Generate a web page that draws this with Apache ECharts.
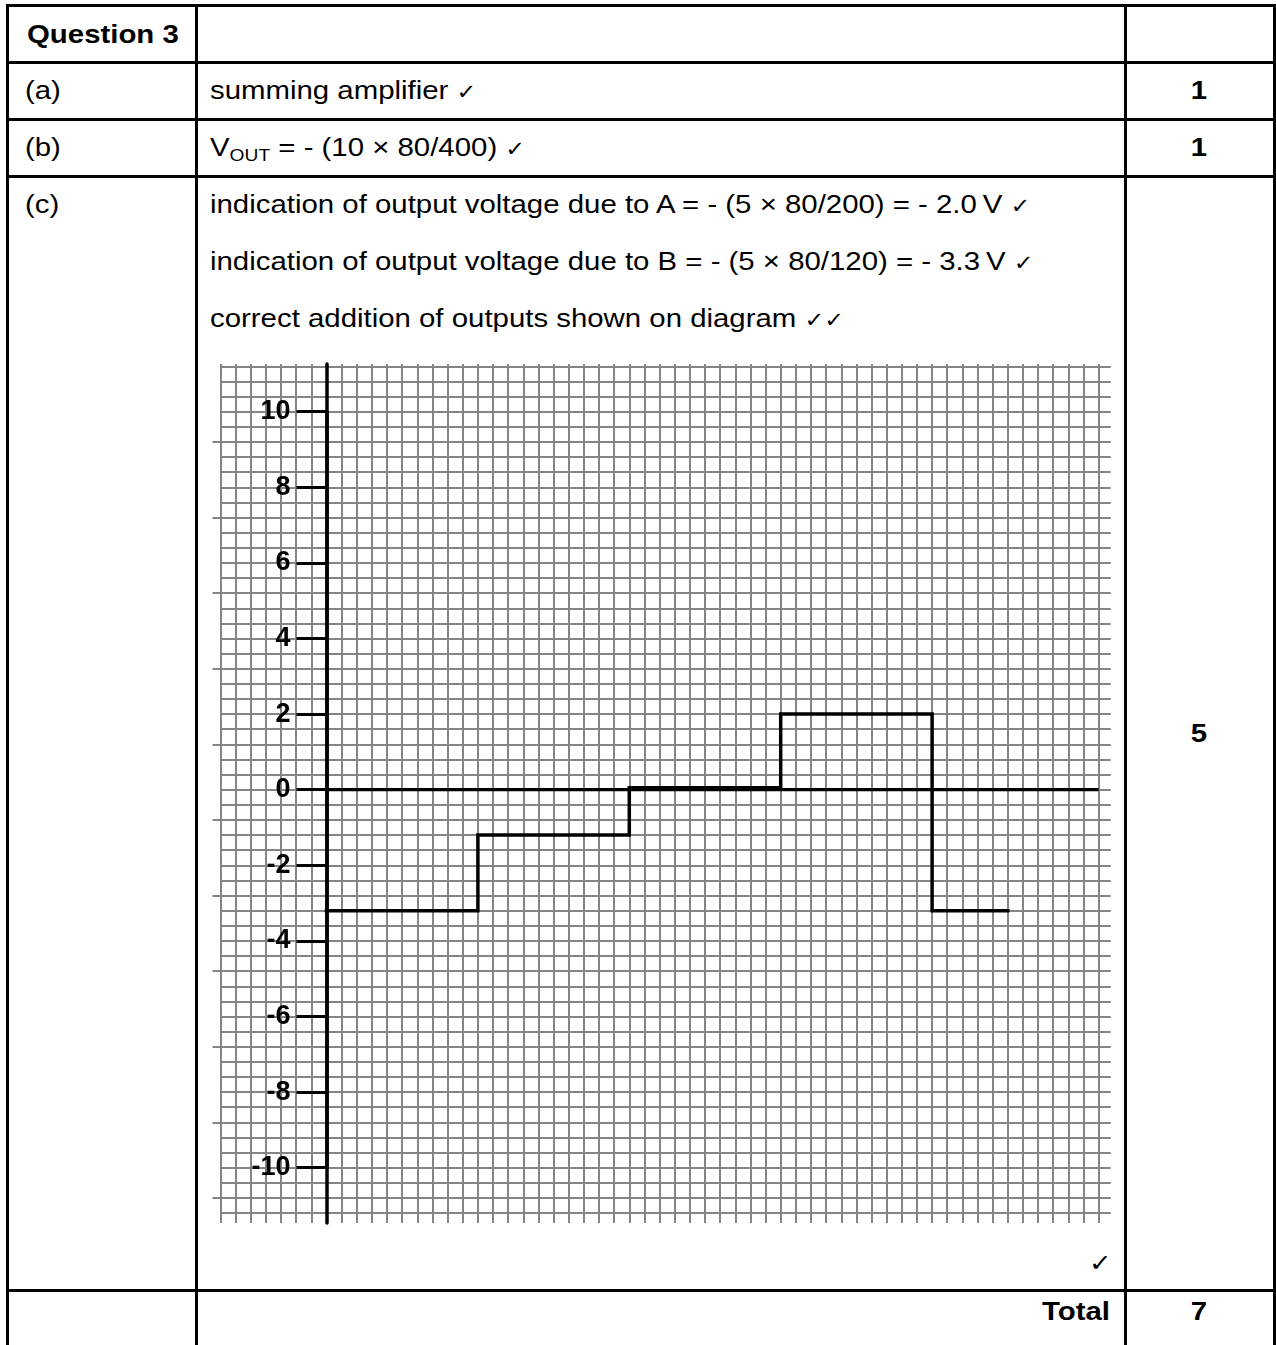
<!DOCTYPE html>
<html>
<head>
<meta charset="utf-8">
<script src="https://cdn.jsdelivr.net/npm/echarts@6/dist/echarts.min.js"></script>
<style>
html,body{margin:0;padding:0;background:#fff;}
body{width:1276px;height:1345px;position:relative;overflow:hidden;font-family:"Liberation Sans",Arial,sans-serif;color:#000;}
.hl{position:absolute;height:3px;background:#000;left:6px;width:1270px;}
.vl{position:absolute;width:3px;background:#000;top:4px;height:1341px;}
.t{position:absolute;white-space:nowrap;font-size:26px;line-height:40px;height:40px;transform:scaleX(1.13);transform-origin:0 50%;}
.b{font-weight:bold;}
.c{text-align:center;width:150px;transform-origin:50% 50%;}
.r{text-align:right;transform-origin:100% 50%;}
.ck{font-family:"DejaVu Sans",sans-serif;font-size:21px;}
sub{font-size:17px;vertical-align:-5px;line-height:0;}
#chart{position:absolute;left:0;top:0;width:1276px;height:1345px;z-index:2;}
</style>
</head>
<body>
<!-- table rules -->
<div class="hl" style="top:4px"></div>
<div class="hl" style="top:61px"></div>
<div class="hl" style="top:118px"></div>
<div class="hl" style="top:175px"></div>
<div class="hl" style="top:1289px"></div>
<div class="vl" style="left:6px"></div>
<div class="vl" style="left:195px"></div>
<div class="vl" style="left:1124px"></div>
<div class="vl" style="left:1273px"></div>

<div class="t b" style="left:27px;top:14px">Question 3</div>
<div class="t" style="left:25px;top:70px">(a)</div>
<div class="t" style="left:25px;top:127px">(b)</div>
<div class="t" style="left:25px;top:184px">(c)</div>

<div class="t" style="left:210px;top:70px">summing amplifier <span class="ck">✓</span></div>
<div class="t" style="left:210px;top:127px">V<sub>OUT</sub> = - (10 × 80/400) <span class="ck">✓</span></div>
<div class="t" style="left:210px;top:184px">indication of output voltage due to A = - (5 × 80/200) = - 2.0&#8201;V <span class="ck">✓</span></div>
<div class="t" style="left:210px;top:241px">indication of output voltage due to B = - (5 × 80/120) = - 3.3&#8201;V <span class="ck">✓</span></div>
<div class="t" style="left:210px;top:298px">correct addition of outputs shown on diagram <span class="ck">✓✓</span></div>
<div class="t" style="left:1089px;top:1242px"><span class="ck" style="font-size:24px">✓</span></div>

<div class="t b c" style="left:1124px;top:70px">1</div>
<div class="t b c" style="left:1124px;top:127px">1</div>
<div class="t b c" style="left:1124px;top:713px">5</div>
<div class="t b r" style="left:1010px;top:1291px;width:100px">Total</div>
<div class="t b c" style="left:1124px;top:1291px">7</div>

<div id="chart"></div>
<script>
// ---- chart data ----
const timeSteps   = [0, 10, 20, 30, 40, 45];             // x positions (grid squares) of each level change
const outputVolts = [-3.2, -1.2, 0.05, 2.0, -3.2, -3.2]; // output voltage level (V)
const zeroLineX   = [0, 51];                             // extent of the time axis (grid squares)
const voltTicks   = [-10, -8, -6, -4, -2, 0, 2, 4, 6, 8, 10]; // labelled voltage ticks
const paperX      = [-7, 51];                            // graph-paper vertical lines range
const paperXEnd   = 51.8;                                // right end of horizontal paper lines
const paperV      = [-11.2, 11.2];                       // graph-paper horizontal lines range (V)
const paperMajor  = [-10.8, 9.2];                        // range of heavy paper-line marks (V)

// ---- layout constants ----
const X0 = 326.5, CELL = 15.14;   // pixel of x=0, px per square
const Y0 = 789.7, VPX = 37.8;     // pixel of 0 V, px per volt
const gx = v => X0 + v * CELL;
const gy = v => Y0 - v * VPX;
const GRAY = '#858585';
const FONT = '"Liberation Sans", Arial, sans-serif';

const wH = gx(paperXEnd) - gx(paperX[0]);
const hidden = {axisLine:{show:false}, axisTick:{show:false}, axisLabel:{show:false}, splitLine:{show:false}};
const vMin = voltTicks[0], vMax = voltTicks[voltTicks.length - 1];

const chart = echarts.init(document.getElementById('chart'), null, {renderer:'canvas'});
chart.setOption({
  animation:false,
  backgroundColor:'transparent',
  grid:[
    {left:gx(paperX[0]), top:364, width:gx(paperX[1]) - gx(paperX[0]), height:1223 - 364, outerBoundsMode:'none', containLabel:false},
    {left:gx(paperX[0]), top:gy(paperV[1]), width:wH, height:(paperV[1]-paperV[0])*VPX, outerBoundsMode:'none', containLabel:false},
    {left:gx(0), top:gy(vMax), width:gx(paperXEnd) - gx(0), height:(vMax - vMin)*VPX, outerBoundsMode:'none', containLabel:false},
    {left:gx(paperX[0]), top:gy(paperMajor[1]), width:wH, height:(paperMajor[1]-paperMajor[0])*VPX, outerBoundsMode:'none', containLabel:false}
  ],
  xAxis:[
    {gridIndex:0, type:'value', min:paperX[0], max:paperX[1], interval:1,
      axisLine:{show:false}, axisTick:{show:false}, axisLabel:{show:false},
      splitLine:{show:true, lineStyle:{color:GRAY, width:2}}},
    Object.assign({gridIndex:1, type:'value', min:paperX[0], max:paperXEnd}, hidden),
    Object.assign({gridIndex:2, type:'value', min:0, max:paperXEnd}, hidden),
    Object.assign({gridIndex:3, type:'value', min:paperX[0], max:paperXEnd}, hidden)
  ],
  yAxis:[
    {gridIndex:0, type:'value', min:0, max:1,
      axisLine:{show:true, onZero:true, lineStyle:{color:'#000', width:3.5}},
      axisTick:{show:false}, axisLabel:{show:false}, splitLine:{show:false}},
    {gridIndex:1, type:'value', min:paperV[0], max:paperV[1], interval:0.4,
      axisLine:{show:false, onZero:false}, axisTick:{show:false}, axisLabel:{show:false},
      splitLine:{show:true, lineStyle:{color:GRAY, width:2}}},
    {gridIndex:2, type:'value', min:vMin, max:vMax, interval:2,
      axisLine:{show:true, onZero:false, lineStyle:{color:'#000', width:3.5}},
      axisTick:{show:true, length:30, lineStyle:{color:'#000', width:3}},
      axisLabel:{show:true, margin:36, color:'#000', fontFamily:FONT, fontWeight:'bold', fontSize:27,
        showMinLabel:true, showMaxLabel:true, hideOverlap:false},
      splitLine:{show:false}},
    {gridIndex:3, type:'value', min:paperMajor[0], max:paperMajor[1], interval:2,
      axisLine:{show:false, onZero:false},
      axisTick:{show:true, length:8, lineStyle:{color:GRAY, width:2}},
      axisLabel:{show:false}, splitLine:{show:false}}
  ],
  series:[
    {type:'line', xAxisIndex:1, yAxisIndex:1, silent:true, symbol:'none', z:3,
      data: zeroLineX.map(x => [x, 0]),
      lineStyle:{color:'#000', width:3.2}},
    {type:'line', xAxisIndex:1, yAxisIndex:1, silent:true, symbol:'none', z:4, step:'end',
      data: timeSteps.map((t, i) => [t, outputVolts[i]]),
      lineStyle:{color:'#000', width:3.5, cap:'square', join:'miter'}}
  ]
});
</script>
</body>
</html>
